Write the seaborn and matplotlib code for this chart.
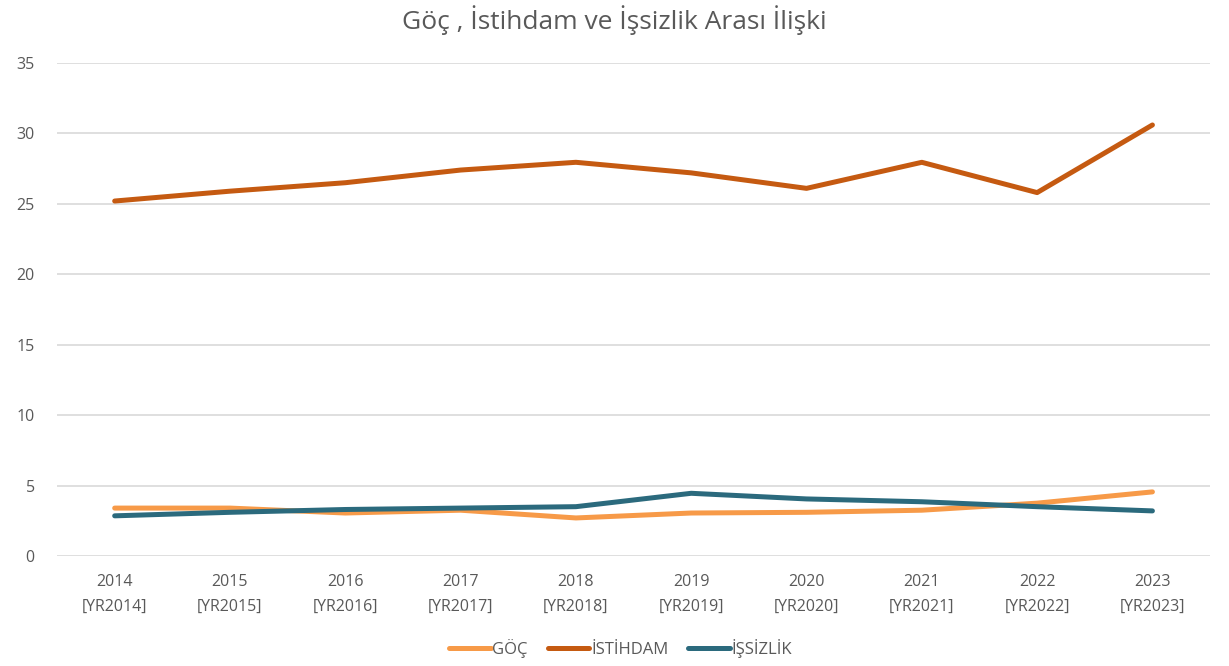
import numpy as np
import pandas as pd
import matplotlib
matplotlib.use("Agg")
import matplotlib.pyplot as plt
import seaborn as sns

# veriler
years = [2014, 2015, 2016, 2017, 2018, 2019, 2020, 2021, 2022, 2023]
goc = [3.4, 3.4, 3.05, 3.25, 2.7, 3.05, 3.1, 3.25, 3.75, 4.55]
istihdam = [25.2, 25.9, 26.5, 27.4, 27.95, 27.2, 26.1, 27.95, 25.8, 30.6]
issizlik = [2.85, 3.1, 3.3, 3.4, 3.5, 4.45, 4.05, 3.85, 3.5, 3.2]
series_names = ["GÖÇ", "İSTİHDAM", "İŞSİZLİK"]
colors = ["#F79A48", "#C55A11", "#2B6A7D"]

sns.set_theme(style="white")
plt.rcParams['font.family'] = ['Open Sans', 'DejaVu Sans']

df = pd.DataFrame({
    "idx": list(range(len(years))) * 3,
    "value": goc + istihdam + issizlik,
    "seri": [s for s in series_names for _ in years],
})

fig = plt.figure(figsize=(12.29, 6.66), dpi=100)
ax = fig.add_axes([0.0464, 0.1652, 0.9382, 0.7402])

sns.lineplot(data=df, x="idx", y="value", hue="seri", hue_order=series_names,
             palette=colors, linewidth=3.6, ax=ax, legend=False,
             solid_capstyle="round")

ax.set_xlim(-0.5, 9.5)
ax.set_ylim(0, 35)
ax.set_yticks(range(0, 36, 5))
ax.set_xticks(range(len(years)))
ax.set_xticklabels([f"{y}\n[YR{y}]" for y in years], color="#595959", fontsize=11.5,
                   linespacing=1.75)
ax.tick_params(axis="y", colors="#595959", labelsize=11.5, length=0, pad=16)
ax.tick_params(axis="x", length=0, pad=13)
ax.grid(axis="y", color="#d9d9d9", linewidth=1.2)
ax.set_axisbelow(True)
for sp in ax.spines.values():
    sp.set_visible(False)
ax.set_xlabel("")
ax.set_ylabel("")

fig.suptitle("Göç , İstihdam ve İşsizlik Arası İlişki", y=0.993, fontsize=19,
             color="#595959")

handles = [plt.Line2D([], [], color=c, linewidth=3.6, solid_capstyle="round") for c in colors]
leg = fig.legend(handles, series_names, loc="center", bbox_to_anchor=(0.505, 0.026),
                 ncol=3, frameon=False, fontsize=12, handlelength=2.5,
                 handletextpad=0.1, columnspacing=1.2)
for t in leg.get_texts():
    t.set_color("#595959")

fig.savefig("out.png", dpi=100)
